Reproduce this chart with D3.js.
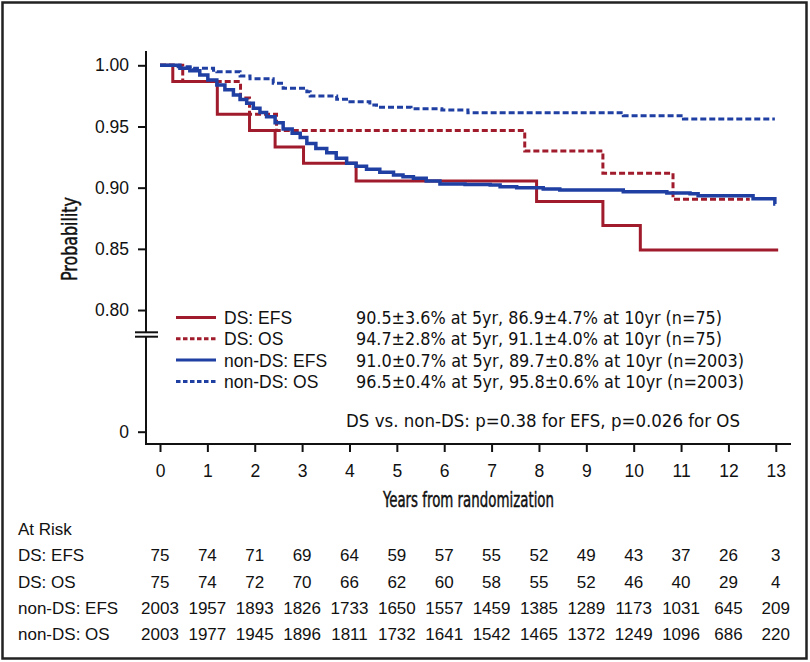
<!DOCTYPE html>
<html><head><meta charset="utf-8">
<script src="https://cdn.jsdelivr.net/npm/d3@7"></script>
<style>
body{margin:0;background:#fff;}
svg{display:block;}
.reg{font-family:"Liberation Sans",Arial,Helvetica,sans-serif;}
.nar{font-family:"Liberation Sans Narrow","Arial Narrow","DejaVu Sans Condensed",sans-serif;}
</style></head>
<body>
<svg id="c" width="810" height="662"></svg>
<script>
// ---- Data ----
const dsEfsTime = [0, 0.27, 1.21, 1.89, 2.43, 3.03, 4.14, 7.95, 9.35, 10.14, 13.05];
const dsEfsSurv = [1.0, 0.9867, 0.96, 0.9467, 0.9333, 0.92, 0.9055, 0.8886, 0.869, 0.849, 0.849];

const dsOsTime = [0, 0.48, 1.70, 1.89, 2.46, 7.70, 9.35, 10.83, 12.45];
const dsOsSurv = [1.0, 0.9867, 0.9733, 0.96, 0.9467, 0.930, 0.9118, 0.8905, 0.8905];

const nonDsEfsTime = [0, 0.27, 0.42, 0.63, 0.84, 1.01, 1.20, 1.37, 1.55, 1.69, 1.83, 1.97, 2.11, 2.25, 2.43, 2.60, 2.79, 2.96, 3.10, 3.29, 3.52, 3.72, 3.94, 4.14, 4.36, 4.64, 4.93, 5.13, 5.35, 5.62, 5.91, 6.44, 6.97, 7.18, 7.53, 8.09, 8.44, 9.78, 10.70, 11.19, 11.36, 12.52, 12.98, 12.99];
const nonDsEfsSurv = [1.0, 1.0, 0.9975, 0.9955, 0.992, 0.988, 0.984, 0.980, 0.9757, 0.972, 0.969, 0.965, 0.9615, 0.958, 0.953, 0.948, 0.9445, 0.941, 0.936, 0.932, 0.9286, 0.924, 0.920, 0.9175, 0.915, 0.9125, 0.9104, 0.909, 0.9077, 0.9055, 0.903, 0.9025, 0.9022, 0.9008, 0.900, 0.899, 0.898, 0.8967, 0.8956, 0.895, 0.8933, 0.8910, 0.8866, 0.8866];

const nonDsOsTime = [0, 0.35, 0.70, 1.13, 1.20, 1.69, 1.90, 2.39, 2.60, 3.10, 3.17, 3.73, 4.01, 4.43, 4.57, 5.30, 5.95, 6.50, 9.78, 11.05, 12.98];
const nonDsOsSurv = [1.0, 0.9989, 0.9975, 0.996, 0.9948, 0.9913, 0.989, 0.9853, 0.9812, 0.9784, 0.975, 0.9722, 0.9703, 0.9676, 0.9657, 0.9645, 0.9635, 0.9613, 0.9588, 0.9561, 0.9561];

const yTickValues = [0, 0.80, 0.85, 0.90, 0.95, 1.00];
const yTickLabels = ["0", "0.80", "0.85", "0.90", "0.95", "1.00"];
const xTickValues = [0,1,2,3,4,5,6,7,8,9,10,11,12,13];

const legendLabels = ["DS: EFS", "DS: OS", "non-DS: EFS", "non-DS: OS"];
const legendStats = [
  "90.5\u00b13.6% at 5yr, 86.9\u00b14.7% at 10yr (n=75)",
  "94.7\u00b12.8% at 5yr, 91.1\u00b14.0% at 10yr (n=75)",
  "91.0\u00b10.7% at 5yr, 89.7\u00b10.8% at 10yr (n=2003)",
  "96.5\u00b10.4% at 5yr, 95.8\u00b10.6% at 10yr (n=2003)"
];
const pValueText = "DS vs. non-DS: p=0.38 for EFS, p=0.026 for OS";

const atRiskLabels = ["DS: EFS", "DS: OS", "non-DS: EFS", "non-DS: OS"];
const atRiskDsEfs = [75, 74, 71, 69, 64, 59, 57, 55, 52, 49, 43, 37, 26, 3];
const atRiskDsOs = [75, 74, 72, 70, 66, 62, 60, 58, 55, 52, 46, 40, 29, 4];
const atRiskNonDsEfs = [2003, 1957, 1893, 1826, 1733, 1650, 1557, 1459, 1385, 1289, 1173, 1031, 645, 209];
const atRiskNonDsOs = [2003, 1977, 1945, 1896, 1811, 1732, 1641, 1542, 1465, 1372, 1249, 1096, 686, 220];

// ---- Drawing ----
const RED = "#a01b2b", BLUE = "#1f3fa3";
const svg = d3.select("#c");

svg.append("rect").attr("x", 2.5).attr("y", 2.5).attr("width", 804).attr("height", 656)
  .attr("fill", "#fff").attr("stroke", "#222").attr("stroke-width", 2.5);

const x = d3.scaleLinear().domain([0, 13]).range([160, 775.8]);
const y = d3.scaleLinear().domain([0, 0.78, 1]).range([431.7, 334.5, 65.3]);

const axisX0 = 146, axisY0 = 444;

// y axis
const gy = svg.append("g").attr("transform", `translate(${axisX0},0)`)
  .call(d3.axisLeft(y).tickValues(yTickValues).tickSize(8).tickPadding(9)
    .tickFormat((d, i) => yTickLabels[i]));
gy.select(".domain").remove();
gy.selectAll(".tick line").attr("stroke", "#111").attr("stroke-width", 2);
gy.selectAll(".tick text").attr("class", "reg").attr("font-size", 17.5).attr("fill", "#111");
svg.append("line").attr("x1", axisX0).attr("x2", axisX0).attr("y1", 51).attr("y2", axisY0 + 1)
  .attr("stroke", "#111").attr("stroke-width", 2);

// x axis
const gx = svg.append("g").attr("transform", `translate(0,${axisY0})`)
  .call(d3.axisBottom(x).tickValues(xTickValues).tickSize(8).tickPadding(13).tickFormat(d3.format("d")));
gx.select(".domain").remove();
gx.selectAll(".tick line").attr("stroke", "#111").attr("stroke-width", 2);
gx.selectAll(".tick text").attr("class", "reg").attr("font-size", 17.5).attr("fill", "#111");
svg.append("line").attr("x1", axisX0 - 1).attr("x2", 791).attr("y1", axisY0).attr("y2", axisY0)
  .attr("stroke", "#111").attr("stroke-width", 2);

// axis break
svg.append("rect").attr("x", axisX0 - 3).attr("y", 332.5).attr("width", 6).attr("height", 4).attr("fill", "#fff");
[332.3, 336.7].forEach(yy => {
  svg.append("line").attr("x1", 135).attr("x2", 158).attr("y1", yy).attr("y2", yy)
    .attr("stroke", "#111").attr("stroke-width", 2);
});

// axis titles
svg.append("text").attr("class", "nar").attr("font-size", 21).attr("fill", "#111")
  .attr("stroke", "#111").attr("stroke-width", 0.45)
  .attr("text-anchor", "middle").attr("x", 468.5).attr("y", 506.5)
  .attr("textLength", 171).attr("lengthAdjust", "spacingAndGlyphs")
  .text("Years from randomization");
svg.append("text").attr("class", "nar").attr("font-size", 21).attr("fill", "#111")
  .attr("stroke", "#111").attr("stroke-width", 0.45)
  .attr("text-anchor", "middle").attr("transform", "translate(76.5,239) rotate(-90)")
  .attr("textLength", 84).attr("lengthAdjust", "spacingAndGlyphs")
  .text("Probability");

// curves
const series = [
  {t: nonDsOsTime, s: nonDsOsSurv, c: BLUE, w: 3, dash: "6,3"},
  {t: dsOsTime, s: dsOsSurv, c: RED, w: 3, dash: "6,3"},
  {t: dsEfsTime, s: dsEfsSurv, c: RED, w: 3, dash: null},
  {t: nonDsEfsTime, s: nonDsEfsSurv, c: BLUE, w: 3.5, dash: null}
];
const line = d3.line().curve(d3.curveStepAfter).x(d => x(d[0])).y(d => y(d[1]));
series.forEach(se => {
  const pts = se.t.map((t, i) => [t, se.s[i]]);
  svg.append("path").attr("d", line(pts)).attr("fill", "none")
    .attr("stroke", se.c).attr("stroke-width", se.w)
    .attr("stroke-dasharray", se.dash);
});

// legend
const legStyle = [
  {c: RED, dash: null, w: 3}, {c: RED, dash: "4.5,2.5", w: 3},
  {c: BLUE, dash: null, w: 3}, {c: BLUE, dash: "4.5,2.5", w: 3}
];
const legY = [317.5, 338.8, 360.1, 381.4];
const statLen = [366, 366, 388, 388];
legendLabels.forEach((lab, i) => {
  svg.append("line").attr("x1", 176).attr("x2", 216).attr("y1", legY[i]).attr("y2", legY[i])
    .attr("stroke", legStyle[i].c).attr("stroke-width", legStyle[i].w)
    .attr("stroke-dasharray", legStyle[i].dash);
  svg.append("text").attr("class", "reg").attr("font-size", 17.5).attr("fill", "#111")
    .attr("x", 224).attr("y", legY[i] + 6.5).text(lab);
  svg.append("text").attr("class", "nar").attr("font-size", 18.5).attr("fill", "#111")
    .attr("x", 356).attr("y", legY[i] + 6.5)
    .attr("textLength", statLen[i]).attr("lengthAdjust", "spacingAndGlyphs")
    .text(legendStats[i]);
});
svg.append("text").attr("class", "nar").attr("font-size", 18.5).attr("fill", "#111")
  .attr("x", 346).attr("y", 426.5)
  .attr("textLength", 394).attr("lengthAdjust", "spacingAndGlyphs")
  .text(pValueText);

// at risk table
svg.append("text").attr("class", "reg").attr("font-size", 17).attr("fill", "#111")
  .attr("x", 18).attr("y", 535).text("At Risk");
const atRiskRows = [atRiskDsEfs, atRiskDsOs, atRiskNonDsEfs, atRiskNonDsOs];
const rowY = [561, 587.5, 614, 640];
atRiskRows.forEach((row, r) => {
  svg.append("text").attr("class", "reg").attr("font-size", 17).attr("fill", "#111")
    .attr("x", 18).attr("y", rowY[r]).text(atRiskLabels[r]);
  svg.selectAll(null).data(row).enter().append("text")
    .attr("class", "reg").attr("font-size", 17).attr("fill", "#111")
    .attr("text-anchor", "middle")
    .attr("x", (d, i) => x(xTickValues[i])).attr("y", rowY[r])
    .text(d => d);
});
</script>
</body></html>
